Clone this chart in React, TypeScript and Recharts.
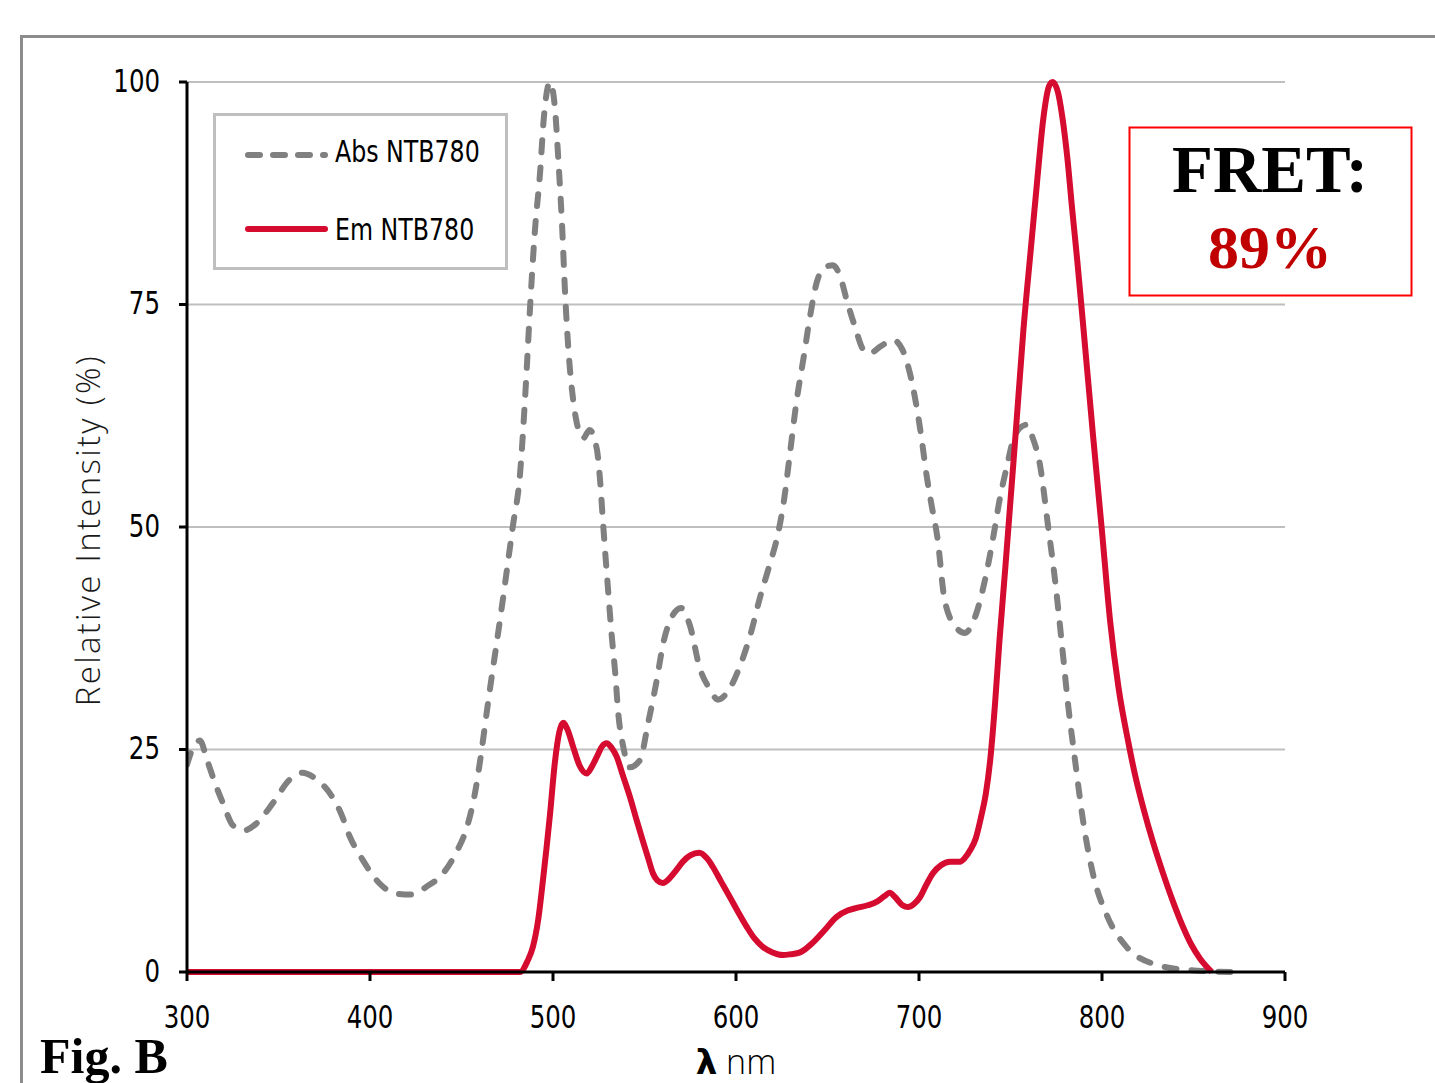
import React from "react";
import { LineChart, Line, XAxis, YAxis, CartesianGrid, Legend } from "recharts";

// absorption spectrum (dashed grey), wavelength in nm / relative intensity in %
const absNm = [
  300, 304, 307, 311, 315, 320, 325, 331, 338, 347, 356, 363, 371, 378, 384, 389, 396, 405, 414, 422,
  431, 440, 447, 453, 457, 460, 465, 471, 478, 482, 485, 487.5, 490, 493, 495, 498.4, 501, 503, 505,
  506.6, 508.4, 511, 513, 516.6, 520, 524, 525.7, 527.5, 529.7, 532, 534, 535.7, 538.4, 542, 547.5,
  552, 556.7, 560.3, 564, 570, 575, 580, 586, 590, 597, 602, 608, 613, 618, 623, 626, 629.5, 633, 637,
  640.4, 644, 648.6, 653, 657, 660.5, 665, 669.6, 673, 679, 686, 691, 695, 698.7, 701.5, 704, 707, 710,
  714, 720, 725, 731, 736, 740.6, 744, 748, 751.5, 755, 759, 762, 766, 770.6, 774.3, 778, 781.6, 785.2,
  789.8, 795.2, 802.6, 813.5, 830, 848, 872,
];
const absVal = [
  23.3, 25.5, 26, 23.8, 21.4, 18.8, 16.5, 15.9, 16.7, 19, 21.6, 22.4, 21.6, 20.1, 17.9, 15.2, 12.6, 10,
  8.8, 8.7, 9.6, 11.1, 13.4, 16.3, 19.7, 23.5, 31, 39.5, 50, 56, 65.4, 74.8, 83, 90, 96, 100, 97.2, 91,
  83.7, 76.3, 70, 64.3, 61.7, 60, 60.9, 58.7, 55.3, 50, 44, 38, 33.6, 29, 25.3, 23, 23.8, 28, 32.8, 37,
  39.5, 40.9, 38.8, 34.3, 31.7, 30.6, 32, 34.3, 38, 42, 45.5, 49.3, 52.7, 58.3, 64, 69.1, 73.6, 77.4,
  79.2, 79.4, 78.1, 75.5, 72.5, 69.9, 69.5, 70.3, 71, 69.9, 67.3, 63.5, 59.8, 56, 52.3, 48.9, 41.8, 38.8,
  38.1, 40.1, 44, 48.9, 53, 56.8, 59.8, 61.1, 61.5, 60.1, 57.1, 50, 44.1, 37, 29.8, 23.9, 16.8, 10.9,
  6.4, 2.8, 0.8, 0.2, 0,
];

// emission spectrum (solid red)
const emNm = [
  300, 482, 486, 489, 492, 494.5, 496.5, 498.4, 501, 503.5, 505.6, 508, 511, 514.5, 518.4, 521, 524, 527,
  529.3, 532, 534.8, 538, 542, 545.5, 549, 552, 554.6, 557, 560, 564, 567.6, 571, 575, 580, 584, 587.4,
  592, 596.7, 601, 605.8, 610, 614.8, 620, 625.7, 630, 635, 642, 648, 655, 661, 666, 672, 677, 681, 684,
  687, 691, 694, 697, 700.5, 704, 707.6, 712, 717, 722.4, 725, 728, 731, 734, 736.5, 739, 741.5, 744,
  747, 750, 753, 757, 761, 764.4, 768, 771, 773, 776, 778.3, 781, 783.7, 786.5, 790, 795, 800, 804.4,
  809, 814.4, 818, 822.6, 828, 833.5, 839, 844.4, 849, 853.6, 860,
];
const emVal = [
  0, 0, 1.2, 2.8, 6, 10.3, 14, 17.8, 23.5, 27, 28, 27.2, 25.3, 23.2, 22.3, 23, 24.2, 25.4, 25.7, 25.2,
  24.2, 22.2, 19.7, 17.2, 14.8, 12.8, 11.1, 10.3, 10, 10.6, 11.5, 12.4, 13.1, 13.4, 12.8, 11.8, 10.1,
  8.4, 6.8, 5.1, 3.8, 2.8, 2.2, 1.9, 2, 2.2, 3.3, 4.6, 6.2, 6.9, 7.2, 7.5, 7.9, 8.5, 8.9, 8.4, 7.5, 7.3,
  7.6, 8.4, 9.8, 11.1, 12, 12.4, 12.4, 12.8, 13.7, 15, 17.5, 20, 24, 30, 37.3, 45, 53, 61, 72, 81, 88.5,
  96, 99.5, 100, 98.8, 96.1, 91.6, 85.7, 79.9, 72, 60.5, 49.5, 39.5, 32, 25.8, 22.2, 18.4, 14.5, 11,
  7.8, 5, 3, 1.5, 0,
];

const xTicks = [300, 400, 500, 600, 700, 800, 900];
const yTicks = [0, 25, 50, 75, 100];

const absData = absNm.map((nm, i) => ({ nm, v: absVal[i] }));
const emData = emNm.map((nm, i) => ({ nm, v: emVal[i] }));

const NARROW = '"DejaVu Sans Condensed", "DejaVu Sans", sans-serif';
const SQUEEZE = 0.85;
const LIGHT = '"Open Sans", "Noto Sans", sans-serif';
const SERIF = '"Liberation Serif", "DejaVu Serif", serif';
const GREY = "#808080";
const RED = "#d50b30";

// condensed text: scale the glyphs horizontally around the anchor point
function NarrowText({ x, y, anchor, dy, size, children }: any) {
  return (
    <g transform={`translate(${x},${y}) scale(${SQUEEZE},1)`}>
      <text x={0} y={0} dy={dy} textAnchor={anchor} fontFamily={NARROW} fontSize={size} fill="#000">
        {children}
      </text>
    </g>
  );
}

function XTick(props: any) {
  const { x, y, payload } = props;
  return <NarrowText x={x} y={y} anchor="middle" dy="0.71em" size={32}>{payload.value}</NarrowText>;
}

function YTick(props: any) {
  const { x, y, payload } = props;
  return <NarrowText x={x} y={y} anchor="end" dy="0.3em" size={32}>{payload.value}</NarrowText>;
}

function YTitle(props: any) {
  const vb = props.viewBox || { x: 0, y: 82, height: 890 };
  const cx = vb.x + 87;
  const cy = vb.y + vb.height / 2 + 3;
  return (
    <text
      x={cx}
      y={cy}
      transform={`rotate(-90 ${cx} ${cy})`}
      textAnchor="middle"
      dominantBaseline="central"
      fontFamily={LIGHT}
      fontWeight={300}
      fontSize={33}
      letterSpacing={2.3}
      fill="#1a1a1a"
    >
      Relative Intensity (%)
    </text>
  );
}

function XTitle(props: any) {
  const vb = props.viewBox || { x: 187, y: 972, width: 1098 };
  return (
    <text x={vb.x + vb.width / 2} y={vb.y + 102} textAnchor="middle" fontSize={34} fill="#000">
      <tspan fontFamily='"DejaVu Sans", sans-serif' fontWeight={700}>λ</tspan>
      <tspan fontFamily={LIGHT} fontWeight={300}> nm</tspan>
    </text>
  );
}

function LegendBox() {
  return (
    <svg width={295} height={157} style={{ display: "block" }}>
      <rect x={1.5} y={1.5} width={292} height={154} fill="#fff" stroke="#bfbfbf" strokeWidth={3} />
      <line x1={35} y1={42} x2={112} y2={42} stroke={GREY} strokeWidth={6} strokeLinecap="round" strokeDasharray="12 13" />
      <NarrowText x={122} y={49} anchor="start" dy={0} size={31}>Abs NTB780</NarrowText>
      <line x1={35} y1={116} x2={112} y2={116} stroke={RED} strokeWidth={6} strokeLinecap="round" />
      <NarrowText x={122} y={127} anchor="start" dy={0} size={31}>Em NTB780</NarrowText>
    </svg>
  );
}

export default function App() {
  return (
    <div style={{ position: "absolute", left: 0, top: 0, width: 1435, height: 1083, overflow: "hidden", background: "#fff" }}>
      <div
        style={{
          position: "absolute",
          left: 20,
          top: 35,
          width: 1500,
          height: 1200,
          border: "3px solid #8c8c8c",
        }}
      />
      <div style={{ position: "absolute", left: 0, top: 0 }}>
        <LineChart width={1435} height={1083} margin={{ top: 82, right: 150, bottom: 0, left: 0 }}>
          <CartesianGrid horizontal vertical={false} stroke="#bfbfbf" strokeWidth={2} />
          <XAxis
            dataKey="nm"
            type="number"
            domain={[300, 900]}
            ticks={xTicks}
            allowDataOverflow
            height={111}
            axisLine={{ stroke: "#000", strokeWidth: 3 }}
            tickLine={{ stroke: "#000", strokeWidth: 3 }}
            tickSize={9}
            tickMargin={24}
            tick={<XTick />}
            label={<XTitle />}
          />
          <YAxis
            type="number"
            domain={[0, 100]}
            ticks={yTicks}
            width={187}
            axisLine={{ stroke: "#000", strokeWidth: 3 }}
            tickLine={{ stroke: "#000", strokeWidth: 3 }}
            tickSize={8}
            tickMargin={19}
            tick={<YTick />}
            label={<YTitle />}
          />
          <Legend
            layout="horizontal"
            verticalAlign="middle"
            align="center"
            content={() => <LegendBox />}
            wrapperStyle={{ left: 213, top: 113, width: 295, height: 157 }}
          />
          <Line
            data={absData}
            dataKey="v"
            name="Abs NTB780"
            type="monotone"
            stroke={GREY}
            strokeWidth={6}
            strokeDasharray="12 15"
            strokeLinecap="round"
            dot={false}
            activeDot={false}
            isAnimationActive={false}
          />
          <Line
            data={emData}
            dataKey="v"
            name="Em NTB780"
            type="monotone"
            stroke={RED}
            strokeWidth={6}
            dot={false}
            activeDot={false}
            isAnimationActive={false}
          />
        </LineChart>
      </div>
      <svg width={1435} height={1083} style={{ position: "absolute", left: 0, top: 0, pointerEvents: "none" }}>
        <rect x={1129.5} y={127.5} width={282} height={168} fill="#fff" stroke="#ff0000" strokeWidth={2} />
        <text x={1270} y={192} textAnchor="middle" fontFamily={SERIF} fontWeight={700} fontSize={67} fill="#000">
          FRET:
        </text>
        <text x={1270} y={268} textAnchor="middle" fontFamily={SERIF} fontWeight={700} fontSize={62} fill="#c00000">
          89%
        </text>
        <text x={40} y={1073} fontFamily={SERIF} fontWeight={700} fontSize={50} fill="#000">
          Fig. B
        </text>
      </svg>
    </div>
  );
}
